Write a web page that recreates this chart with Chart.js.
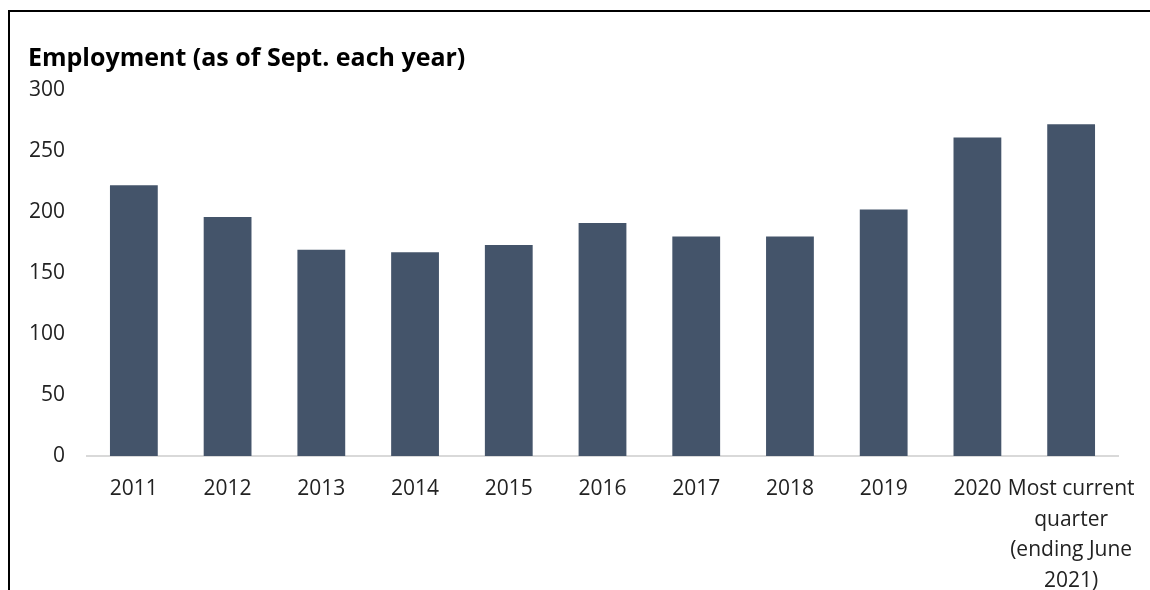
<!DOCTYPE html>
<html>
<head>
<meta charset="utf-8">
<script src="https://cdn.jsdelivr.net/npm/chart.js@4"></script>
<style>
  html, body { margin: 0; padding: 0; background: #fff; overflow: hidden; }
  #frame {
    position: absolute; left: 8px; top: 10px; width: 1300px; height: 700px;
    border: 2px solid #000; box-sizing: border-box;
  }
  #wrap { position: absolute; left: 0; top: 0; width: 1150px; height: 590px; }
</style>
</head>
<body>
<div id="frame"></div>
<div id="wrap"><canvas id="chart" width="1150" height="590"></canvas></div>
<script>
(function () {
  'use strict';

  var categories = ['2011', '2012', '2013', '2014', '2015', '2016', '2017', '2018', '2019', '2020',
    ['Most current', 'quarter', '(ending June', '2021)']];
  var employment = [222, 196, 169, 167, 173, 191, 180, 180, 202, 261, 272];
  var yTicks = [0, 50, 100, 150, 200, 250, 300];

  var font = '"Open Sans", "Noto Sans", sans-serif';

  new Chart(document.getElementById('chart'), {
    type: 'bar',
    data: {
      labels: categories,
      datasets: [{
        label: 'Employment',
        data: employment,
        backgroundColor: '#44546a',
        categoryPercentage: 1,
        barPercentage: 0.51,
      }],
    },
    options: {
      responsive: false,
      animation: false,
      layout: { padding: { left: 28, right: 32, top: 22, bottom: 0 } },
      plugins: {
        legend: { display: false },
        tooltip: { enabled: false },
        title: {
          display: true,
          text: 'Employment (as of Sept. each year)',
          align: 'start',
          color: '#000',
          font: { family: font, size: 25, weight: 'bold' },
          padding: { top: 22, bottom: 16 },
        },
      },
      scales: {
        x: {
          grid: { display: false, drawTicks: false },
          border: { display: true, color: '#d9d9d9', width: 2 },
          ticks: {
            color: '#222',
            font: { family: font, size: 21, lineHeight: 1.45 },
            padding: 18,
            maxRotation: 0,
            autoSkip: false,
          },
          afterFit: function (axis) {
            axis.height = 134;
            axis.paddingLeft = 0;
            axis.paddingRight = 0;
          },
        },
        y: {
          min: 0,
          max: 300,
          afterBuildTicks: function (axis) {
            axis.ticks = yTicks.map(function (v) { return { value: v }; });
          },
          grid: { display: false, drawTicks: false },
          border: { display: false },
          ticks: {
            color: '#222',
            font: { family: font, size: 21 },
            padding: 22,
          },
          afterFit: function (axis) { axis.width = 59; },
        },
      },
    },
  });
})();
</script>
</body>
</html>
